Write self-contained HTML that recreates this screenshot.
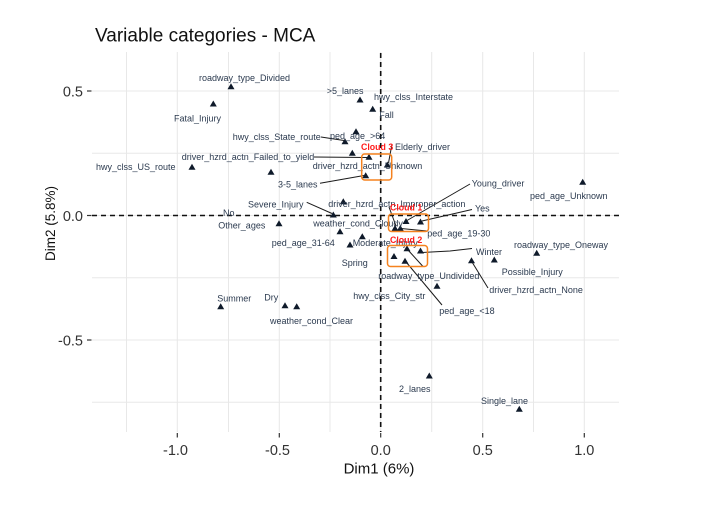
<!DOCTYPE html>
<html>
<head>
<meta charset="utf-8">
<style>
  html,body{margin:0;padding:0;background:#fff;}
  svg{display:block;}
  .lbl{font-family:"Liberation Sans",Arial,sans-serif;font-size:9px;fill:#2b3a4f;}
  .tick{font-family:"Liberation Sans",Arial,sans-serif;font-size:14.5px;fill:#333;}
  .ttl{font-family:"Liberation Sans",Arial,sans-serif;}
  .cl{font-family:"Liberation Sans",Arial,sans-serif;font-size:8.8px;font-weight:bold;fill:#ff1a1a;}
</style>
</head>
<body>
<svg width="713" height="518" viewBox="0 0 713 518" xmlns="http://www.w3.org/2000/svg">
  <rect x="0" y="0" width="713" height="518" fill="#fff"/>

  <!-- grid -->
  <g stroke="#e8e8e8" stroke-width="1">
    <line x1="126.5" y1="52" x2="126.5" y2="432"/>
    <line x1="177.3" y1="52" x2="177.3" y2="432"/>
    <line x1="228.5" y1="52" x2="228.5" y2="432"/>
    <line x1="279.3" y1="52" x2="279.3" y2="432"/>
    <line x1="330" y1="52" x2="330" y2="432"/>
    <line x1="380.7" y1="52" x2="380.7" y2="432"/>
    <line x1="431.7" y1="52" x2="431.7" y2="432"/>
    <line x1="482.7" y1="52" x2="482.7" y2="432"/>
    <line x1="533.5" y1="52" x2="533.5" y2="432"/>
    <line x1="584.3" y1="52" x2="584.3" y2="432"/>
    <line x1="92" y1="91" x2="619" y2="91"/>
    <line x1="92" y1="153.3" x2="619" y2="153.3"/>
    <line x1="92" y1="215.5" x2="619" y2="215.5"/>
    <line x1="92" y1="277.7" x2="619" y2="277.7"/>
    <line x1="92" y1="340" x2="619" y2="340"/>
    <line x1="92" y1="402.2" x2="619" y2="402.2"/>
  </g>

  <!-- dashed reference lines -->
  <g stroke="#111" stroke-width="1.6" stroke-dasharray="5 4">
    <line x1="92" y1="215.5" x2="619" y2="215.5"/>
    <line x1="380.7" y1="53" x2="380.7" y2="432"/>
  </g>

  <!-- axis ticks -->
  <g stroke="#333" stroke-width="1.2">
    <line x1="87" y1="91" x2="91.5" y2="91"/>
    <line x1="87" y1="215.5" x2="91.5" y2="215.5"/>
    <line x1="87" y1="340" x2="91.5" y2="340"/>
    <line x1="177.3" y1="433" x2="177.3" y2="437.5"/>
    <line x1="279.3" y1="433" x2="279.3" y2="437.5"/>
    <line x1="380.7" y1="433" x2="380.7" y2="437.5"/>
    <line x1="482.7" y1="433" x2="482.7" y2="437.5"/>
    <line x1="584.3" y1="433" x2="584.3" y2="437.5"/>
  </g>

  <!-- tick labels -->
  <g class="tick" text-anchor="end">
    <text x="83" y="96.5">0.5</text>
    <text x="83" y="221">0.0</text>
    <text x="83" y="345.5">-0.5</text>
  </g>
  <g class="tick" text-anchor="middle">
    <text x="175.5" y="455">-1.0</text>
    <text x="277.5" y="455">-0.5</text>
    <text x="380.7" y="455">0.0</text>
    <text x="482.7" y="455">0.5</text>
    <text x="584.3" y="455">1.0</text>
  </g>

  <!-- axis titles -->
  <text class="ttl" x="379" y="473.5" text-anchor="middle" font-size="15" fill="#111">Dim1 (6%)</text>
  <text class="ttl" x="0" y="0" text-anchor="middle" font-size="13.5" fill="#111" transform="translate(55,223.5) rotate(-90)">Dim2 (5.8%)</text>

  <!-- title -->
  <text class="ttl" x="95" y="41.5" font-size="19" fill="#111">Variable categories - MCA</text>

  <!-- leader segments -->
  <g stroke="#1a1a1a" stroke-width="1" fill="none">
    <line x1="321" y1="137" x2="344" y2="140.5"/>
    <line x1="314" y1="157" x2="367" y2="157.5"/>
    <line x1="320" y1="183.3" x2="364" y2="175.5"/>
    <line x1="306.7" y1="202.3" x2="332" y2="213.5"/>
    <line x1="392" y1="144" x2="388.5" y2="163"/>
    <line x1="389" y1="207" x2="396" y2="226"/>
    <line x1="470" y1="184" x2="407" y2="220.5"/>
    <line x1="472" y1="209.5" x2="422" y2="221"/>
    <line x1="401" y1="228.5" x2="427" y2="231"/>
    <polyline points="422,252.5 450,251 472,248.5"/>
    <line x1="408" y1="250" x2="423" y2="266.5"/>
    <line x1="406.5" y1="262.5" x2="442" y2="305"/>
    <line x1="472" y1="262" x2="488" y2="288"/>
  </g>

  <!-- triangles -->
  <g fill="#0f1a2a">
    <path d="M231,83.2 l3.5,6 h-7z"/>
    <path d="M213.3,100.5 l3.5,6 h-7z"/>
    <path d="M192,163.8 l3.5,6 h-7z"/>
    <path d="M271,168.8 l3.5,6 h-7z"/>
    <path d="M279,220.3 l3.5,6 h-7z"/>
    <path d="M333.3,211.5 l3.5,6 h-7z"/>
    <path d="M343.3,198.2 l3.5,6 h-7z"/>
    <path d="M340,228.2 l3.5,6 h-7z"/>
    <path d="M362.3,233.2 l3.5,6 h-7z"/>
    <path d="M350,241.5 l3.5,6 h-7z"/>
    <path d="M360,96.5 l3.5,6 h-7z"/>
    <path d="M372.7,105.8 l3.5,6 h-7z"/>
    <path d="M356,128.2 l3.5,6 h-7z"/>
    <path d="M345,138.2 l3.5,6 h-7z"/>
    <path d="M352.3,149.8 l3.5,6 h-7z"/>
    <path d="M369,153.8 l3.5,6 h-7z"/>
    <path d="M365.7,172.2 l3.5,6 h-7z"/>
    <path d="M387.3,161.5 l3.5,6 h-7z"/>
    <path d="M395,225 l3.5,6 h-7z"/>
    <path d="M400.3,225 l3.5,6 h-7z"/>
    <path d="M406,218 l3.5,6 h-7z"/>
    <path d="M420.5,218.5 l3.5,6 h-7z"/>
    <path d="M394,253 l3.5,6 h-7z"/>
    <path d="M405,257.7 l3.5,6 h-7z"/>
    <path d="M407,245.3 l3.5,6 h-7z"/>
    <path d="M420.5,247.5 l3.5,6 h-7z"/>
    <path d="M471.5,257.3 l3.5,6 h-7z"/>
    <path d="M494.3,256.5 l3.5,6 h-7z"/>
    <path d="M536.7,249.8 l3.5,6 h-7z"/>
    <path d="M582.7,178.8 l3.5,6 h-7z"/>
    <path d="M437,282.8 l3.5,6 h-7z"/>
    <path d="M220.7,303.2 l3.5,6 h-7z"/>
    <path d="M285,302.2 l3.5,6 h-7z"/>
    <path d="M296.7,303.2 l3.5,6 h-7z"/>
    <path d="M429.3,372.5 l3.5,6 h-7z"/>
    <path d="M519.3,405.8 l3.5,6 h-7z"/>
  </g>

  <!-- point labels -->
  <g class="lbl">
    <text x="199" y="81">roadway_type_Divided</text>
    <text x="174" y="121.5">Fatal_Injury</text>
    <text x="232.7" y="140">hwy_clss_State_route</text>
    <text x="181.7" y="160">driver_hzrd_actn_Failed_to_yield</text>
    <text x="96" y="170">hwy_clss_US_route</text>
    <text x="278" y="187.3">3-5_lanes</text>
    <text x="248" y="207.3">Severe_Injury</text>
    <text x="223" y="216">No</text>
    <text x="218.3" y="228.5">Other_ages</text>
    <text x="313.3" y="226.5">weather_cond_Cloudy</text>
    <text x="328.3" y="207.2">driver_hzrd_actn_Improper_action</text>
    <text x="271.7" y="246">ped_age_31-64</text>
    <text x="352.7" y="246.2">Moderate_Injury</text>
    <text x="341.7" y="266">Spring</text>
    <text x="217.3" y="301.5">Summer</text>
    <text x="264.3" y="300.5">Dry</text>
    <text x="270" y="324">weather_cond_Clear</text>
    <text x="353.3" y="299.2">hwy_clss_City_str</text>
    <text x="378.3" y="279.2">roadway_type_Undivided</text>
    <text x="439.3" y="314">ped_age_&lt;18</text>
    <text x="399" y="392.2">2_lanes</text>
    <text x="481" y="404">Single_lane</text>
    <text x="489.3" y="293.2">driver_hzrd_actn_None</text>
    <text x="501.7" y="275">Possible_Injury</text>
    <text x="514" y="248.2">roadway_type_Oneway</text>
    <text x="476" y="255">Winter</text>
    <text x="530" y="199">ped_age_Unknown</text>
    <text x="471.7" y="186.5">Young_driver</text>
    <text x="475" y="211.5">Yes</text>
    <text x="427.3" y="236.5">ped_age_19-30</text>
    <text x="326.7" y="94">&gt;5_lanes</text>
    <text x="374" y="100">hwy_clss_Interstate</text>
    <text x="379.3" y="118.2">Fall</text>
    <text x="330" y="139">ped_age_&gt;64</text>
    <text x="395" y="150">Elderly_driver</text>
    <text x="312.7" y="169">driver_hzrd_actn_Unknown</text>
  </g>

  <!-- cloud boxes -->
  <g fill="none" stroke="#f5821f" stroke-width="1.5">
    <rect x="388.5" y="214" width="40" height="17.5" rx="3"/>
    <rect x="387.5" y="245.5" width="40" height="21" rx="3"/>
    <rect x="361.7" y="154" width="30" height="26" rx="3"/>
  </g>
  <text class="cl" x="390" y="210.7">Cloud 1</text>
  <text class="cl" x="390" y="242.8">Cloud 2</text>
  <text class="cl" x="361" y="150">Cloud 3</text>
</svg>
</body>
</html>
